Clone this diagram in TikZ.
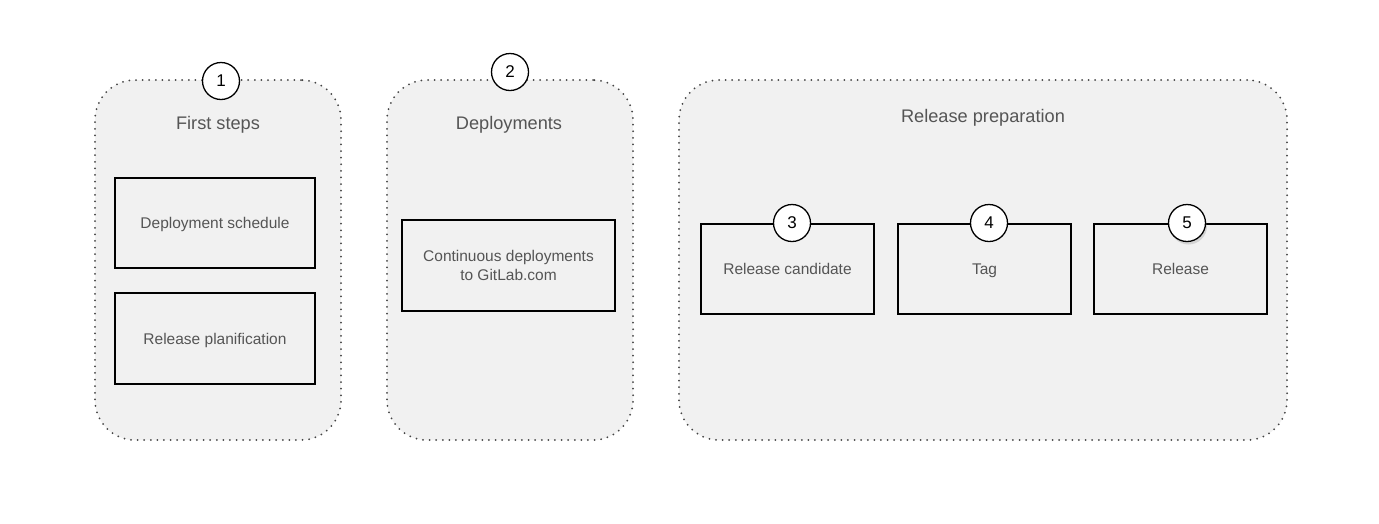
\documentclass[tikz,border=0pt]{standalone}
\usepackage{fontspec}
\setmainfont{Liberation Sans}
\usetikzlibrary{shadows}
\definecolor{panelfill}{HTML}{F1F1F1}
\definecolor{dotcol}{HTML}{444444}
\definecolor{txt}{HTML}{555555}
\tikzset{
  panel/.style={draw=dotcol, line width=2pt, dash pattern=on 0pt off 6.6pt, line cap=round,
    fill=panelfill, rounded corners=40pt, inner sep=0pt},
  stepbox/.style={draw=black, line width=1.6pt, fill=panelfill, inner sep=0pt, align=center,
    text=txt, font=\fontsize{15.5}{19.5}\selectfont},
  onel/.style={text depth=0pt},
  numcirc/.style={circle, draw=black, line width=1.3pt, fill=white, minimum size=37pt, inner sep=0pt,
    font=\fontsize{17}{20}\selectfont, text=black},
  paneltitle/.style={text=txt, font=\fontsize{18.2}{20}\selectfont, inner sep=0pt},
}
\begin{document}
\begin{tikzpicture}[x=1pt,y=-1pt]
\useasboundingbox[fill=white] (0,0) rectangle (1379,523);
% panels
\node[panel, minimum width=246pt, minimum height=360pt] (p1) at (218,260) {};
\node[panel, minimum width=246pt, minimum height=360pt] (p2) at (510,260) {};
\node[panel, minimum width=608pt, minimum height=360pt] (p3) at (983,260) {};
% titles
\node[paneltitle] (t1) at (218,124.5) {First steps};
\node[paneltitle] (t2) at (509,124.5) {Deployments};
\node[paneltitle] (t3) at (983,117.5) {Release preparation};
% boxes
\node[stepbox, onel, minimum width=200pt, minimum height=90pt] (b1) at (215,223) {Deployment schedule};
\node[stepbox, onel, minimum width=200pt, minimum height=91pt] (b2) at (215,338.5) {Release planification};
\node[stepbox, minimum width=213pt, minimum height=91pt] (b3) at (508.5,265.5) {Continuous deployments\\to GitLab.com};
\node[stepbox, onel, minimum width=173pt, minimum height=90pt] (b4) at (787.5,269) {Release candidate};
\node[stepbox, onel, minimum width=173pt, minimum height=90pt] (b5) at (984.5,269) {Tag};
\node[stepbox, onel, minimum width=173pt, minimum height=90pt] (b6) at (1180.5,269) {Release};
% numbers
\node[numcirc] (n1) at (221,81) {1};
\node[numcirc] (n2) at (510,72) {2};
\node[numcirc] (n3) at (792,223) {3};
\node[numcirc] (n4) at (989,223) {4};
\node[numcirc, drop shadow={opacity=0.25, shadow xshift=1.5pt, shadow yshift=-3pt}] (n5) at (1187,223) {5};
\end{tikzpicture}
\end{document}
